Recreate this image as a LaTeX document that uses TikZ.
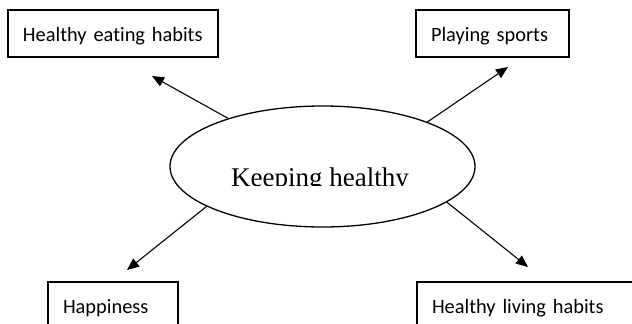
\documentclass[tikz,border=0pt]{standalone}
\usepackage{fontspec}
\setmainfont{Carlito}[Ligatures=NoCommon]
\newfontfamily\titlefont{Liberation Serif}
\usetikzlibrary{shapes.geometric, arrows.meta}

\tikzset{
    habitbox/.style={draw, line width=1.3pt, anchor=north west, outer sep=0pt,
        inner xsep=15pt, inner ysep=0pt, minimum height=47pt,
        text height=17pt, text depth=2pt, align=left,
        font=\fontsize{20.4}{24}\selectfont},
    spoke/.style={line width=1.1pt, -{Triangle[length=12pt, width=10pt]}}
}

\begin{document}
\begin{tikzpicture}[x=1pt, y=-1pt]
    \clip (0,0) rectangle (632,324);

    \node[habitbox, text width=180pt] (eating) at (8,10) {Healthy eating habits};
    \node[habitbox, text width=123pt] (sports) at (416,10) {Playing sports};
    \node[habitbox, text width=100pt] (happy) at (48,282) {Happiness};
    \node[habitbox, text width=200pt] (living) at (417,282) {Healthy living habits};

    \node[draw, ellipse, line width=1.3pt, minimum width=305pt, minimum height=121pt,
        inner sep=0pt] (healthy) at (322.5,166.5) {};
    \begin{scope}
        \clip (150,100) rectangle (500,185);
        \node[font=\titlefont\fontsize{27}{32}\selectfont, anchor=base, inner sep=0pt]
            (title) at (320,186.5) {Keeping healthy};
    \end{scope}

    \coordinate (tipEat) at (152,76);
    \coordinate (tipSports) at (508,67);
    \coordinate (tipHappy) at (127,270);
    \coordinate (tipLiving) at (528,267);

    \draw[spoke] (healthy.153) -- (tipEat);
    \draw[spoke] (healthy.23) -- (tipSports);
    \draw[spoke] (healthy.199) -- (tipHappy);
    \draw[spoke] (healthy.344) -- (tipLiving);
\end{tikzpicture}
\end{document}
